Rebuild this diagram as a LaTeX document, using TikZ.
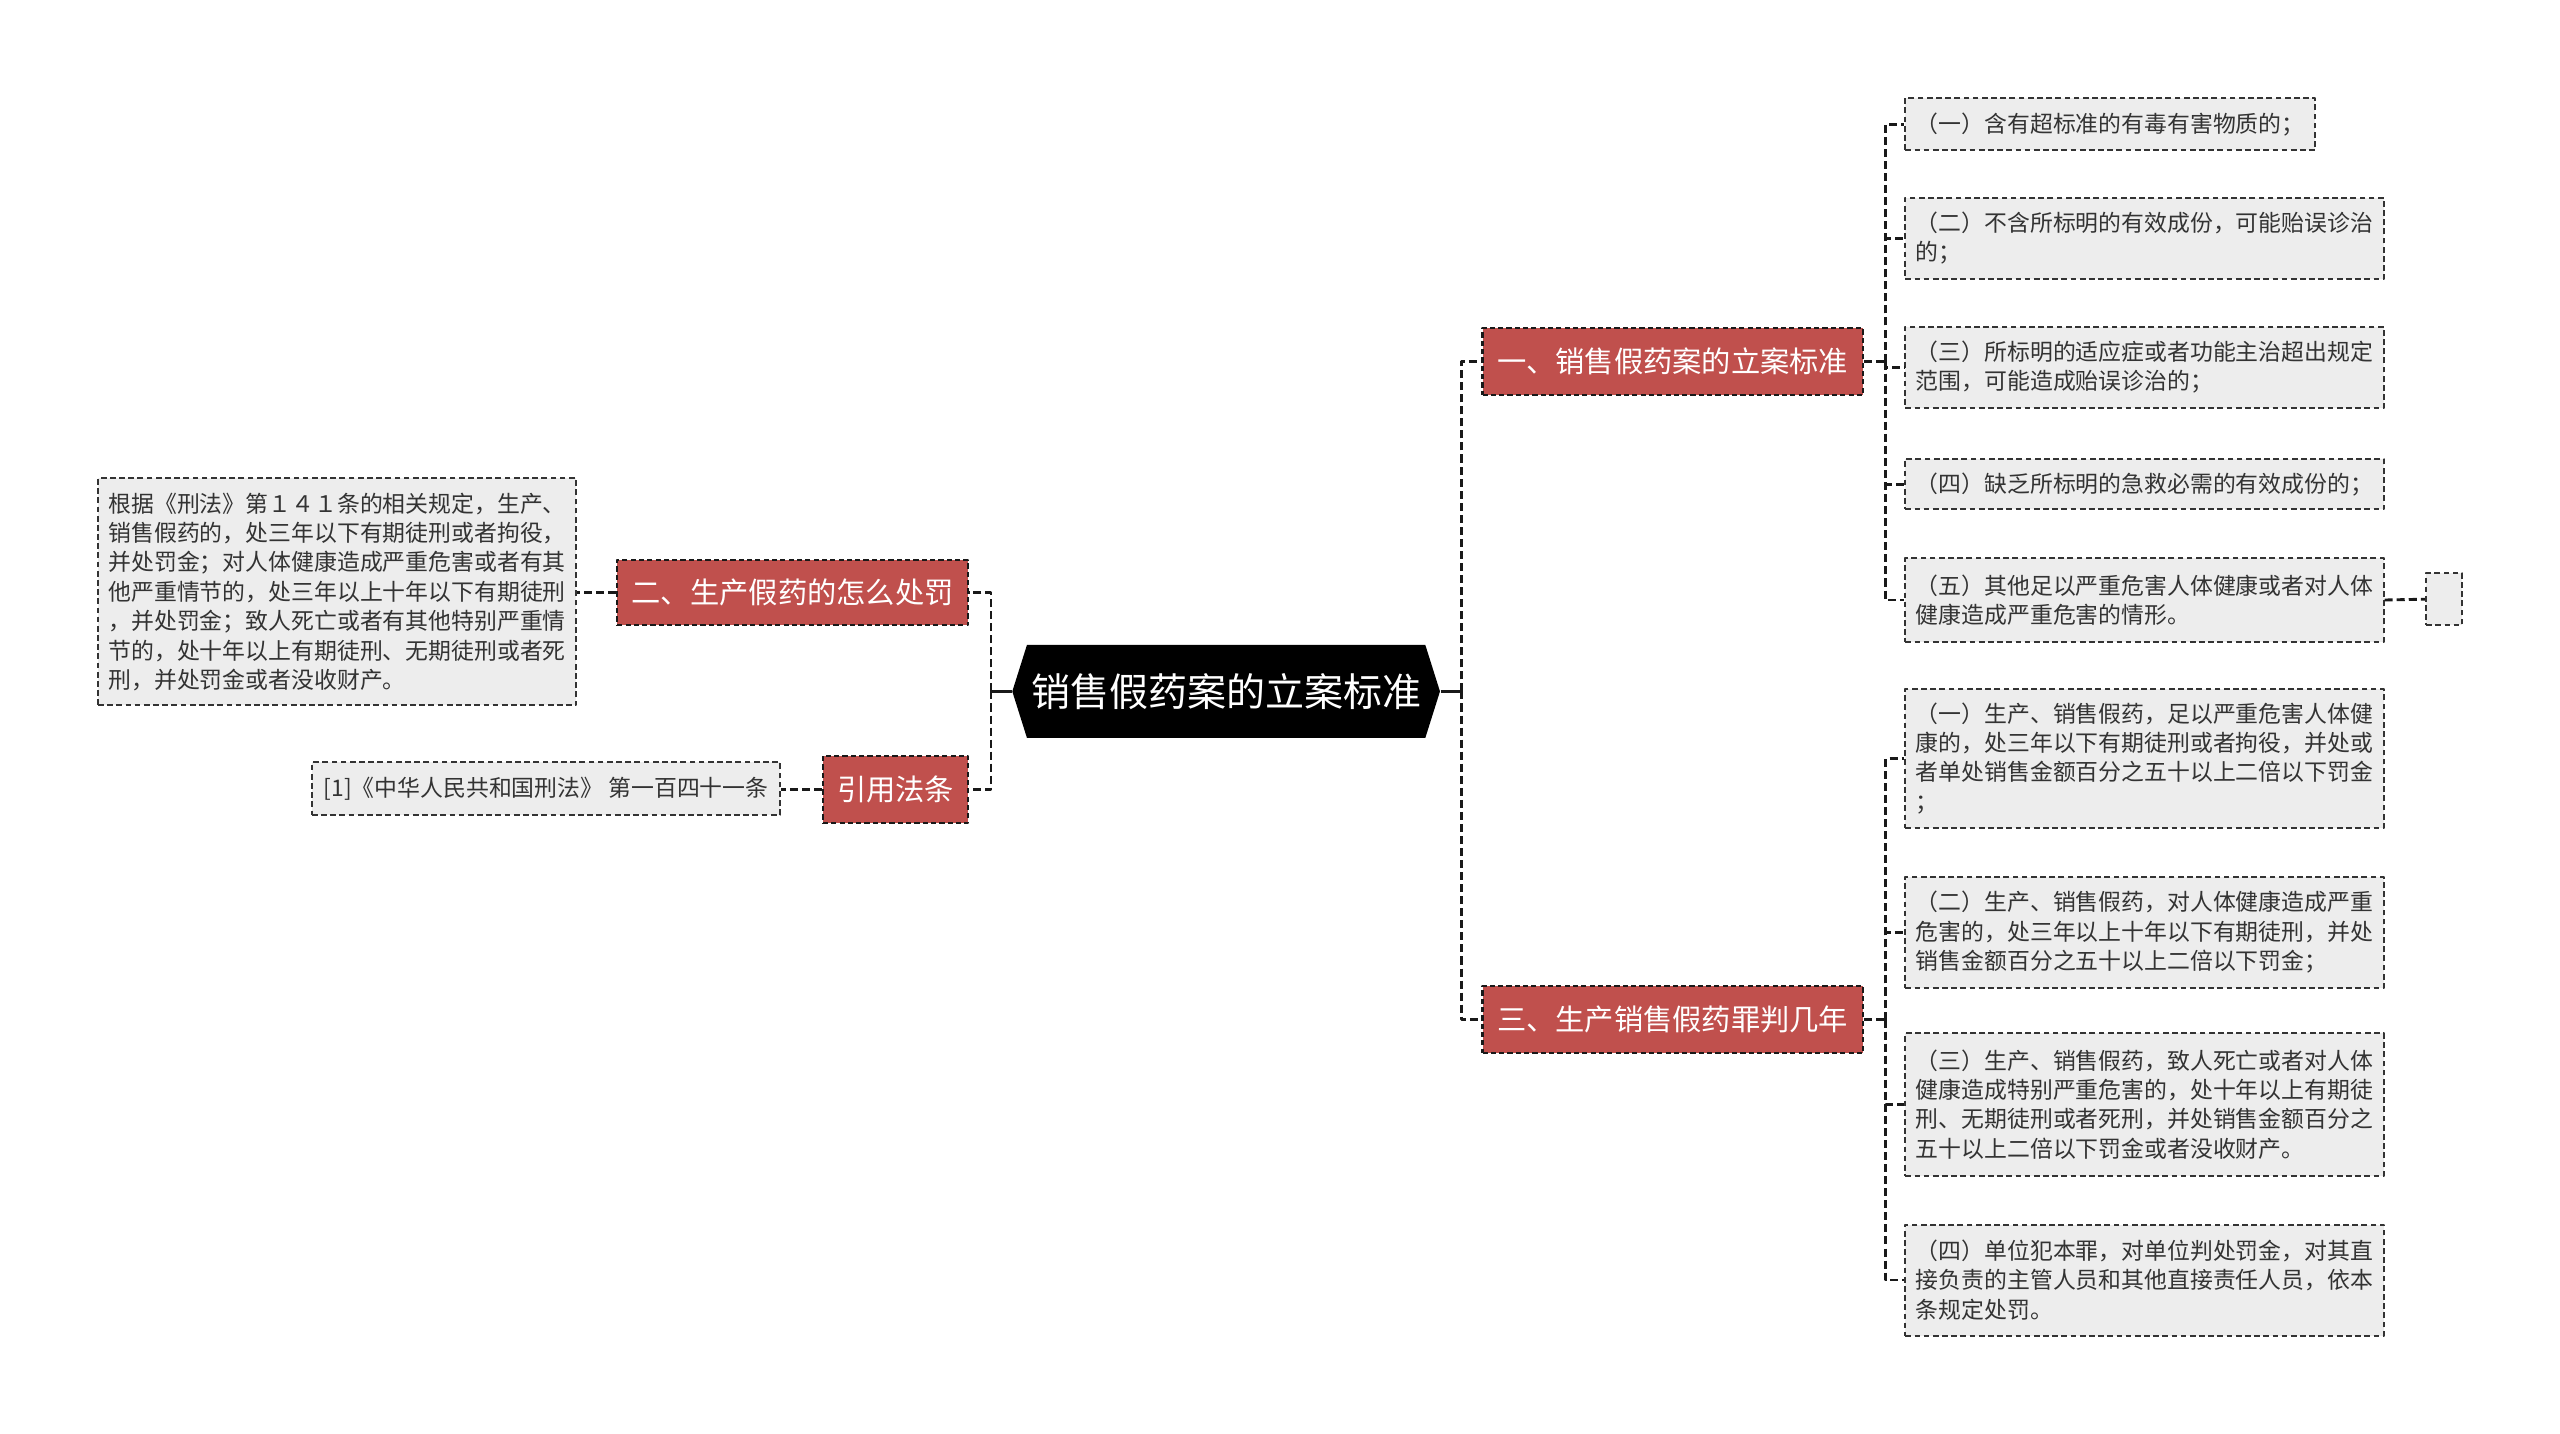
\documentclass[tikz,border=0pt]{standalone}
\usepackage{fontspec}
\newfontfamily\cjk{Noto Sans CJK SC}
\usepackage{tikz}
\usetikzlibrary{shapes.symbols}
\usepackage{xcolor}
\definecolor{branchred}{RGB}{192,80,77}

\begin{document}
\begin{tikzpicture}[x=0.02cm, y=-0.02cm, line join=round,
    link/.style={dash pattern=on 2.8pt off 1.4pt, line width=1pt, black!90},
    stub/.style={line width=1pt, black!90},
    root/.style={signal, signal to=west and east, signal pointer angle=145,
        fill=black, text=white, minimum width=5.24cm, minimum height=1.14cm,
        inner sep=0pt, font=\cjk\fontsize{13.6pt}{16pt}\selectfont},
    branch/.style={draw=black!90, dash pattern=on 1.8pt off 1.1pt, line width=0.8pt, fill=branchred,
        text=white, minimum height=0.82cm, inner sep=0.1cm,
        font=\cjk\fontsize{10.2pt}{12pt}\selectfont},
    leaf/.style={draw=black!80, dash pattern=on 2pt off 1.2pt, line width=0.7pt, fill=black!7,
        text=black!80, align=left, inner sep=0.12cm,
        font=\cjk\fontsize{7.97pt}{10.24pt}\selectfont},
    wide/.style={leaf, minimum width=5.86cm}]

    \useasboundingbox (0,0) rectangle (1568,878);

    % Root in the middle
    \node[root] (root) at (751,423.5) {销售假药案的立案标准};

    % Main branches
    \node[branch, minimum width=4.66cm] (b1) at (1024.5,221.5) {一、销售假药案的立案标准};
    \node[branch, minimum width=4.66cm] (b3) at (1024.5,624.5) {三、生产销售假药罪判几年};
    \node[branch, minimum width=4.30cm, minimum height=0.8cm] (b2) at (485.5,363) {二、生产假药的怎么处罚};
    \node[branch, minimum width=1.78cm] (b4) at (548.5,483.5) {引用法条};

    % Left leaves
    \node[wide, minimum height=2.78cm] (lf) at (206.5,362.5) {根据《刑法》第１４１条的相关规定，生产、\\销售假药的，处三年以下有期徒刑或者拘役，\\并处罚金；对人体健康造成严重危害或者有其\\他严重情节的，处三年以上十年以下有期徒刑\\，并处罚金；致人死亡或者有其他特别严重情\\节的，处十年以上有期徒刑、无期徒刑或者死\\刑，并处罚金或者没收财产。};
    \node[leaf, minimum width=5.74cm, minimum height=0.64cm] (rf) at (334.5,483) {[1]《中华人民共和国刑法》 第一百四十一条};

    % Leaves of branch one
    \node[leaf, minimum width=5.02cm, minimum height=0.64cm] (l1) at (1292.5,76) {（一）含有超标准的有毒有害物质的；};
    \node[wide, minimum height=1.0cm] (l2) at (1313.5,146) {（二）不含所标明的有效成份，可能贻误诊治\\的；};
    \node[wide, minimum height=1.0cm] (l3) at (1313.5,225) {（三）所标明的适应症或者功能主治超出规定\\范围，可能造成贻误诊治的；};
    \node[wide, minimum height=0.62cm] (l4) at (1313.5,296.5) {（四）缺乏所标明的急救必需的有效成份的；};
    \node[wide, minimum height=1.02cm] (l5) at (1313.5,367.5) {（五）其他足以严重危害人体健康或者对人体\\健康造成严重危害的情形。};
    \node[leaf, minimum width=0.44cm, minimum height=0.64cm, inner sep=0pt] (l6) at (1497,367) {};

    % Leaves of branch three
    \node[wide, minimum height=1.70cm] (r1) at (1313.5,464.5) {（一）生产、销售假药，足以严重危害人体健\\康的，处三年以下有期徒刑或者拘役，并处或\\者单处销售金额百分之五十以上二倍以下罚金\\；};
    \node[wide, minimum height=1.36cm] (r2) at (1313.5,571) {（二）生产、销售假药，对人体健康造成严重\\危害的，处三年以上十年以下有期徒刑，并处\\销售金额百分之五十以上二倍以下罚金；};
    \node[wide, minimum height=1.74cm] (r3) at (1313.5,676.5) {（三）生产、销售假药，致人死亡或者对人体\\健康造成特别严重危害的，处十年以上有期徒\\刑、无期徒刑或者死刑，并处销售金额百分之\\五十以上二倍以下罚金或者没收财产。};
    \node[wide, minimum height=1.36cm] (r4) at (1313.5,784) {（四）单位犯本罪，对单位判处罚金，对其直\\接负责的主管人员和其他直接责任人员，依本\\条规定处罚。};

    % Junctions
    \coordinate (jr) at (895,423.5);
    \coordinate (jl) at (607,423.5);
    \coordinate (j1) at (1155,221.5);
    \coordinate (j3) at (1155,624.5);

    % Root to branches
    \draw[stub] (root.east) -- (jr);
    \draw[stub] (root.west) -- (jl);
    \draw[link] (jr) |- (b1.west);
    \draw[link] (jr) |- (b3.west);
    \draw[link] (jl) |- (b2.east);
    \draw[link] (jl) |- (b4.east);

    % Branches to leaves
    \draw[link] (b2.west) -- (lf.east |- b2.west);
    \draw[link] (b4.west) -- (rf.east |- b4.west);
    \draw[link] (b1.east) -- (j1);
    \draw[link] (b3.east) -- (j3);
    \foreach \n in {l1,l2,l3,l4,l5}
        \draw[link] (j1) |- (\n.west);
    \foreach \n in {r1,r2,r3,r4}
        \draw[link] (j3) |- (\n.west);
    \draw[link] (l5.east) -- (l6.west);

\end{tikzpicture}
\end{document}
